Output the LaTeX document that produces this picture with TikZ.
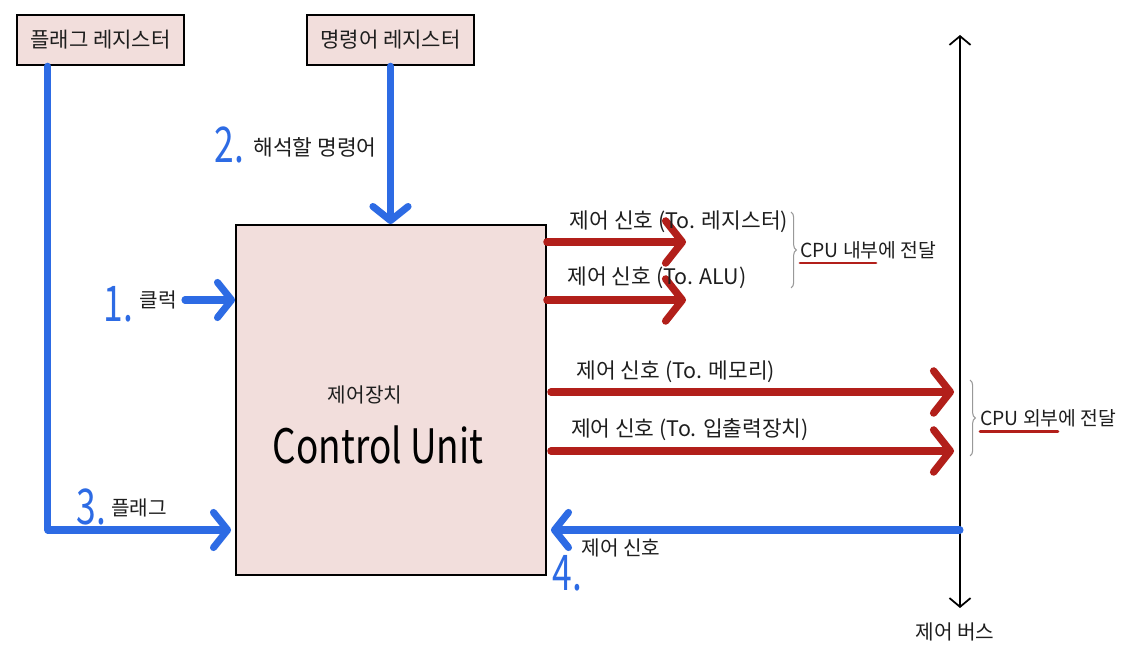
\documentclass[tikz,border=0pt]{standalone}
\usepackage{fontspec}
\usepackage{graphicx}
\setmainfont{Noto Sans CJK KR}
\usetikzlibrary{arrows.meta,calc,decorations.pathreplacing}
\definecolor{bpen}{HTML}{2D6BE4}
\definecolor{rpen}{HTML}{B21F1A}
\definecolor{boxfill}{HTML}{F2DEDC}
\definecolor{ink}{HTML}{1E1E1E}
\newcommand{\numtxt}[1]{\scalebox{0.72}[1]{#1}}
\tikzset{
  regbox/.style={draw=black,line width=1.4pt,fill=boxfill,minimum width=3.34cm,minimum height=1.0cm,inner sep=0pt,font=\fontsize{12}{14}\selectfont,text=ink},
  cubox/.style={draw=black,line width=1.1pt,fill=boxfill,minimum width=6.2cm,minimum height=7.0cm,inner sep=0pt},
  lbl/.style={font=\fontsize{11.5}{13}\selectfont,text=ink,inner sep=0pt},
  sig/.style={font=\fontsize{12.2}{14}\selectfont,text=ink,inner sep=0pt},
  cpul/.style={font=\fontsize{11}{13}\selectfont,text=ink,inner sep=0pt},
  num/.style={font=\fontsize{28}{30}\selectfont,text=bpen,inner sep=0pt,anchor=base west},
  bluearrow/.style={draw=bpen,line width=4pt,line cap=round,line join=round,-{Straight Barb[length=8pt,width=20pt,round]}},
  redarrow/.style={draw=rpen,line width=4.2pt,line cap=round,-{Straight Barb[length=9.5pt,width=24pt,round]}},
  busline/.style={draw=black,line width=1pt,{Straight Barb[length=5pt,width=12pt]}-{Straight Barb[length=5pt,width=12pt]}},
  gbrace/.style={draw=gray!80,line width=0.6pt,decorate,decoration={brace,amplitude=3pt}},
  uline/.style={draw=rpen,line width=1.6pt,line cap=round}
}
\begin{document}
\begin{tikzpicture}[x=0.02cm,y=-0.02cm]
\useasboundingbox[fill=white] (0,0) rectangle (1127,648);
% boxes
\node[regbox] (flag) at (100.5,40) {플래그 레지스터};
\node[regbox] (instr) at (390.5,40) {명령어 레지스터};
\node[cubox] (cu) at (391,400) {};
\node[lbl] (cuk) at (365,395) {제어장치};
\node[inner sep=0pt,font=\fontsize{25}{30}\selectfont,text=black] (cue) at (378,445) {\scalebox{0.84}[1.08]{Control Unit}};
% bus
\coordinate (bt) at (960,35);
\coordinate (bb) at (960,608);
\draw[busline] (bt) -- (bb);
\node[lbl] (busl) at (955,632) {제어 버스};
% 1. clock
\node[num] (n1) at (103,322) {\numtxt{1.}};
\node[lbl] (clk) at (158,300) {클럭};
\draw[bluearrow] ($(clk.east)+(8,0)$) -- (cu.west |- clk.east);
% 2. instruction
\node[num] (n2) at (214,163) {\numtxt{2.}};
\node[sig] (dec) at (315,147) {해석할 명령어};
\draw[bluearrow] (instr.south) -- (instr.south |- cu.north);
% 3. flag
\node[num] (n3) at (76,525) {\numtxt{3.}};
\node[lbl] (flg) at (139,508) {플래그};
\coordinate (fo) at ($(flag.south west)!0.19!(flag.south east)$);
\draw[bluearrow] (fo) |- ($(cu.west |- 0,530)+(-4,0)$);
% 4. control signal from bus
\coordinate (b4) at (960,530);
\draw[bluearrow] (b4) -- ($(cu.east |- b4)+(4,0)$);
\node[lbl] (sig4) at (621,548) {제어 신호};
\node[num] (n4) at (552,591) {\numtxt{4.}};
% red arrows inside CPU
\coordinate (r1) at (686,242);
\coordinate (r2) at (686,300);
\coordinate (r3) at (954,392);
\coordinate (r4) at (954,451);
\draw[redarrow] (cu.east |- r1) -- (r1);
\draw[redarrow] (cu.east |- r2) -- (r2);
\draw[redarrow] ($(cu.east |- r3)+(4,0)$) -- (r3);
\draw[redarrow] ($(cu.east |- r4)+(4,0)$) -- (r4);
\node[sig] (s1) at (679,222) {제어 신호 (To. 레지스터)};
\node[sig] (s2) at (657,278) {제어 신호 (To. ALU)};
\node[sig] (s3) at (676,372) {제어 신호 (To. 메모리)};
\node[sig] (s4) at (690,430) {제어 신호 (To. 입출력장치)};
% braces
\coordinate (ba1) at (791,212);
\coordinate (ba2) at (791,288);
\draw[gbrace] (ba1) -- (ba2);
\node[cpul,anchor=west] (inner) at (800,250) {CPU 내부에 전달};
\draw[uline] ($(inner.south west)+(0,4)$) -- ($(inner.south west)+(76,4)$);
\coordinate (bc1) at (970,380);
\coordinate (bc2) at (970,456);
\draw[gbrace] (bc1) -- (bc2);
\node[cpul,anchor=west] (outer) at (980,418) {CPU 외부에 전달};
\draw[uline] ($(outer.south west)+(0,4)$) -- ($(outer.south west)+(78,4)$);
\end{tikzpicture}
\end{document}
